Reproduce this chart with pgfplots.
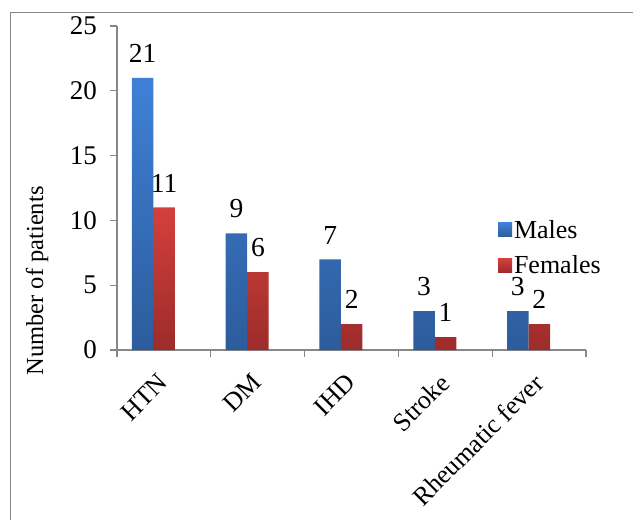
\documentclass[border=0pt]{standalone}
\usepackage{fontspec}
\setmainfont{Liberation Serif}
\usepackage{pgfplots}
\pgfplotsset{compat=1.18}
\definecolor{blueTop}{HTML}{3F80D6}
\definecolor{blueBot}{HTML}{2C5C9C}
\definecolor{redTop}{HTML}{D4403C}
\definecolor{redBot}{HTML}{9C2C2A}
\definecolor{axgray}{HTML}{878787}
\begin{document}
\begin{tikzpicture}
\useasboundingbox (-117pt,-170pt) rectangle (516pt,350pt);
\draw[axgray, line width=1.3pt] (-106.5pt,-175pt) -- (-106.5pt,337.5pt) -- (520pt,337.5pt);
\begin{axis}[
  at={(0pt,0pt)}, anchor=south west,
  scale only axis, width=469pt, height=324pt,
  font=\fontsize{27}{32}\selectfont,
  /pgf/number format/assume math mode=true,
  ymin=0, ymax=25, ytick={0,5,10,15,20,25},
  xmin=-0.5, xmax=4.5,
  xtick={-0.5,0.5,1.5,2.5,3.5,4.5}, xticklabels={},
  extra x ticks={0,1,2,3,4},
  extra x tick labels={HTN,DM,IHD,Stroke,Rheumatic fever},
  extra x tick style={major tick length=0pt, xticklabel style={font=\fontsize{26}{30}\selectfont, rotate=45, anchor=north east, inner sep=0pt, xshift=-20.4pt, yshift=-10.75pt}},
  axis lines*=left,
  axis line style={axgray, line width=1.3pt, -},
  tick style={axgray, line width=1.3pt},
  tick align=outside, major tick length=7pt,
  yticklabel style={inner sep=0pt, xshift=-13pt},
  ylabel={Number of patients},
  ylabel style={font=\fontsize{24.5}{28}\selectfont, at={(axis description cs:-0.1706,0.213)}, anchor=center},
  ybar, bar width=21.5pt,
  nodes near coords,
  nodes near coords style={font=\fontsize{27.5}{32}\selectfont, anchor=south, inner sep=0pt, yshift=15pt},
  legend style={draw=none, fill=none, at={(axis description cs:0.812,0.408)}, anchor=north west, inner sep=0pt, row sep=12pt, nodes={inner sep=2pt, anchor=west}, font=\fontsize{26}{30}\selectfont},
  legend cell align=left,
  legend image code/.code={\path[#1, draw=none] (0pt,-7pt) rectangle (14pt,7pt);},
]
\addplot[draw=none, top color=blueTop, bottom color=blueBot, bar shift=-21.25pt]
  coordinates {(0,21) (1,9) (2,7) (3,3) (4,3)};
\addplot[draw=none, top color=redTop, bottom color=redBot, bar shift=0.25pt]
  coordinates {(0,11) (1,6) (2,2) (3,1) (4,2)};
\legend{Males,Females}
\end{axis}
\end{tikzpicture}
\end{document}
